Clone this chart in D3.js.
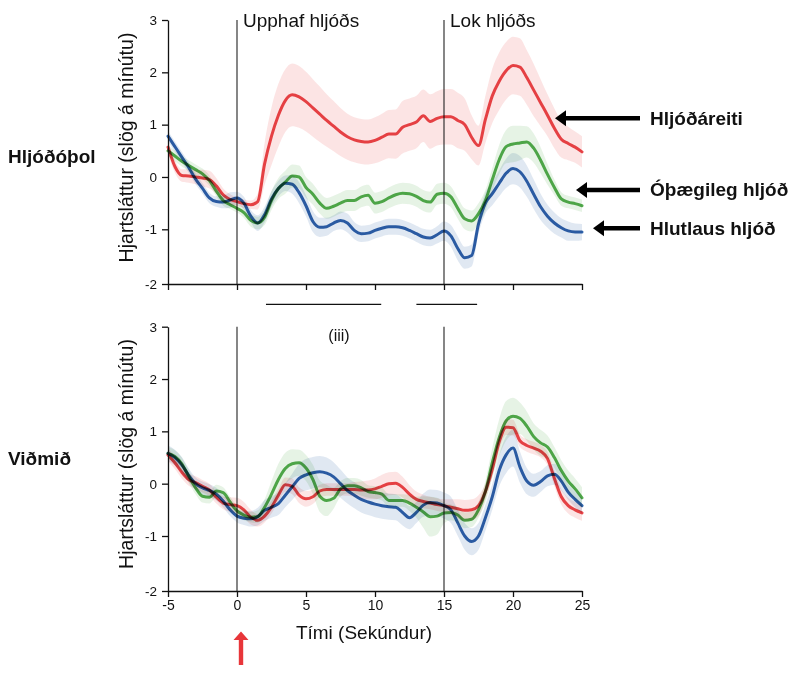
<!DOCTYPE html>
<html><head><meta charset="utf-8">
<script src="https://cdn.jsdelivr.net/npm/d3@7"></script>
<style>
html,body{margin:0;padding:0;background:#fff;}
svg{display:block;font-family:"Liberation Sans",Arial,Helvetica,sans-serif;}
.line{mix-blend-mode:multiply;}
</style></head>
<body>
<svg id="c" width="796" height="675"></svg>
<script>
// ---------- data ----------
const times = [
 -5,-4.5,-4,-3.5,-3,-2.5,-2,-1.5,-1,-0.5,
 0,0.5,1,1.5,2,2.5,3,3.5,4,4.5,
 5,5.5,6,6.5,7,7.5,8,8.5,9,9.5,
 10,10.5,11,11.5,12,12.5,13,13.5,14,14.5,
 15,15.5,16,16.5,17,17.5,18,18.5,19,19.5,
 20,20.5,21,21.5,22,22.5,23,23.5,24,24.5,
 25];

const seriesNames = ["Hljóðáreiti", "Óþægileg hljóð", "Hlutlaus hljóð"];
const panelNames = ["Hljóðóþol", "Viðmið"];

// top panel (Hljóðóþol)
const topRed = [
 0.57,0.2,0.03,0.02,0.0,-0.02,-0.05,-0.17,-0.34,-0.43,
 -0.47,-0.51,-0.53,-0.47,0.25,0.78,1.18,1.46,1.57,1.53,
 1.44,1.32,1.2,1.08,0.97,0.86,0.77,0.71,0.68,0.67,
 0.7,0.76,0.82,0.82,0.95,1.0,1.05,1.17,1.06,1.12,
 1.15,1.15,1.08,1.0,0.76,0.6,1.1,1.55,1.83,2.03,
 2.13,2.1,1.9,1.66,1.42,1.18,0.93,0.72,0.64,0.57,
 0.48];
const topRedErr = [
 0.12,0.12,0.12,0.13,0.14,0.16,0.17,0.15,0.12,0.1,
 0.08,0.08,0.08,0.15,0.4,0.55,0.6,0.6,0.6,0.59,
 0.57,0.55,0.53,0.5,0.48,0.46,0.44,0.43,0.43,0.43,
 0.44,0.45,0.46,0.47,0.5,0.5,0.5,0.5,0.52,0.52,
 0.53,0.53,0.53,0.5,0.42,0.38,0.45,0.52,0.55,0.55,
 0.55,0.55,0.52,0.5,0.45,0.4,0.38,0.35,0.32,0.3,
 0.3];
const topGreen = [
 0.5,0.4,0.3,0.22,0.14,0.06,-0.07,-0.27,-0.45,-0.53,
 -0.6,-0.68,-0.83,-0.88,-0.77,-0.45,-0.22,-0.1,0.02,0.0,
 -0.2,-0.33,-0.5,-0.6,-0.56,-0.5,-0.45,-0.45,-0.38,-0.35,
 -0.5,-0.47,-0.4,-0.34,-0.31,-0.32,-0.37,-0.45,-0.48,-0.33,
 -0.31,-0.38,-0.6,-0.8,-0.84,-0.7,-0.45,-0.05,0.33,0.58,
 0.63,0.65,0.67,0.55,0.32,0.05,-0.2,-0.42,-0.48,-0.51,
 -0.55];
const topGreenErr = [
 0.1,0.1,0.1,0.1,0.1,0.1,0.1,0.1,0.1,0.08,
 0.08,0.1,0.12,0.12,0.15,0.18,0.2,0.22,0.22,0.22,
 0.2,0.2,0.2,0.2,0.2,0.2,0.2,0.2,0.2,0.2,
 0.2,0.2,0.2,0.2,0.2,0.2,0.2,0.2,0.2,0.2,
 0.2,0.2,0.2,0.2,0.2,0.2,0.2,0.22,0.28,0.32,
 0.35,0.33,0.3,0.28,0.25,0.2,0.15,0.13,0.12,0.12,
 0.12];
const topBlue = [
 0.78,0.58,0.38,0.18,-0.04,-0.22,-0.4,-0.47,-0.48,-0.44,
 -0.4,-0.5,-0.75,-0.88,-0.72,-0.42,-0.22,-0.12,-0.14,-0.3,
 -0.55,-0.85,-0.96,-0.95,-0.88,-0.83,-0.88,-1.02,-1.08,-1.07,
 -1.02,-0.98,-0.95,-0.95,-0.97,-1.02,-1.08,-1.14,-1.16,-1.1,
 -1.03,-1.12,-1.35,-1.52,-1.48,-0.9,-0.5,-0.32,-0.12,0.07,
 0.16,0.1,-0.08,-0.33,-0.57,-0.75,-0.88,-0.97,-1.03,-1.05,
 -1.05];
const topBlueErr = [
 0.1,0.1,0.1,0.1,0.1,0.1,0.1,0.1,0.12,0.15,
 0.12,0.12,0.12,0.15,0.15,0.15,0.15,0.15,0.18,0.2,
 0.2,0.2,0.18,0.17,0.15,0.17,0.18,0.16,0.15,0.15,
 0.15,0.15,0.15,0.15,0.15,0.15,0.15,0.15,0.15,0.16,
 0.18,0.2,0.22,0.2,0.2,0.18,0.2,0.22,0.25,0.28,
 0.3,0.3,0.3,0.28,0.25,0.22,0.2,0.18,0.18,0.16,
 0.15];

// bottom panel (Viðmið)
const botRed = [
 0.55,0.4,0.22,0.08,0.02,-0.05,-0.12,-0.26,-0.37,-0.4,
 -0.42,-0.5,-0.64,-0.7,-0.62,-0.45,-0.22,-0.02,-0.05,-0.22,
 -0.29,-0.25,-0.14,-0.11,-0.11,-0.11,-0.11,-0.11,-0.12,-0.12,
 -0.1,-0.05,0.0,0.01,-0.07,-0.2,-0.3,-0.34,-0.37,-0.4,
 -0.42,-0.45,-0.48,-0.51,-0.5,-0.42,-0.15,0.28,0.8,1.08,
 1.07,0.82,0.73,0.68,0.62,0.48,0.1,-0.25,-0.42,-0.5,
 -0.56];
const botRedErr = [
 0.12,0.12,0.12,0.12,0.12,0.12,0.12,0.12,0.12,0.14,
 0.15,0.15,0.14,0.12,0.12,0.12,0.12,0.14,0.15,0.15,
 0.15,0.14,0.12,0.12,0.12,0.12,0.12,0.14,0.16,0.18,
 0.2,0.22,0.22,0.22,0.2,0.17,0.15,0.13,0.12,0.12,
 0.12,0.15,0.18,0.2,0.2,0.2,0.15,0.15,0.15,0.15,
 0.15,0.12,0.12,0.12,0.12,0.13,0.15,0.15,0.15,0.15,
 0.15];
const botGreen = [
 0.58,0.52,0.38,0.14,-0.08,-0.24,-0.26,-0.14,-0.17,-0.35,
 -0.52,-0.6,-0.64,-0.63,-0.45,-0.2,0.08,0.29,0.38,0.4,
 0.3,0.08,-0.24,-0.32,-0.28,-0.1,-0.04,-0.04,-0.08,-0.15,
 -0.17,-0.2,-0.32,-0.32,-0.32,-0.37,-0.45,-0.54,-0.63,-0.62,
 -0.56,-0.55,-0.6,-0.7,-0.68,-0.5,-0.15,0.4,0.88,1.2,
 1.29,1.25,1.1,0.9,0.78,0.7,0.5,0.25,0.05,-0.1,
 -0.27];
const botGreenErr = [
 0.12,0.12,0.12,0.12,0.12,0.12,0.12,0.12,0.1,0.1,
 0.1,0.1,0.1,0.12,0.15,0.25,0.3,0.3,0.28,0.25,
 0.25,0.28,0.3,0.3,0.2,0.15,0.15,0.15,0.15,0.12,
 0.12,0.12,0.12,0.12,0.12,0.15,0.2,0.3,0.38,0.35,
 0.2,0.15,0.15,0.15,0.15,0.15,0.2,0.28,0.35,0.38,
 0.35,0.3,0.28,0.25,0.25,0.22,0.2,0.2,0.2,0.2,
 0.2];
const botBlue = [
 0.58,0.5,0.36,0.16,0.0,-0.08,-0.13,-0.2,-0.33,-0.5,
 -0.62,-0.66,-0.67,-0.63,-0.51,-0.45,-0.38,-0.22,-0.06,0.1,
 0.17,0.21,0.23,0.2,0.13,0.0,-0.13,-0.22,-0.3,-0.35,
 -0.39,-0.42,-0.44,-0.45,-0.55,-0.65,-0.55,-0.41,-0.36,-0.37,
 -0.42,-0.5,-0.75,-1.0,-1.1,-1.0,-0.65,-0.25,0.25,0.55,
 0.68,0.32,0.05,-0.03,0.04,0.15,0.18,0.05,-0.16,-0.3,
 -0.42];
const botBlueErr = [
 0.15,0.15,0.15,0.13,0.12,0.12,0.12,0.12,0.12,0.12,
 0.12,0.13,0.15,0.17,0.2,0.2,0.22,0.23,0.25,0.28,
 0.3,0.3,0.3,0.3,0.28,0.27,0.25,0.25,0.25,0.25,
 0.25,0.25,0.25,0.25,0.25,0.22,0.2,0.22,0.25,0.25,
 0.25,0.25,0.25,0.25,0.25,0.25,0.25,0.25,0.3,0.35,
 0.35,0.3,0.25,0.22,0.2,0.2,0.2,0.18,0.15,0.15,
 0.15];

const xTicks = [-5, 0, 5, 10, 15, 20, 25];
const yTicks = [-2, -1, 0, 1, 2, 3];
const eventTimes = [0, 15];
const eventLabels = ["Upphaf hljóðs", "Lok hljóðs"];
const sigSegments = [[2.1, 10.45], [13.0, 17.4]];
const sigLabel = "(iii)";
const yTitle = "Hjartsláttur (slög á mínútu)";
const xTitle = "Tími (Sekúndur)";

// ---------- drawing ----------
const colors = ["#e8474b", "#55ad4f", "#2f63ab"];
const svg = d3.select("#c");
const x = d3.scaleLinear().domain([-5, 25]).range([168, 582]);
const fmt = d => String(d);

const panels = [
  { name: panelNames[0], y: d3.scaleLinear().domain([-2, -1, 3]).range([284, 229.3, 20]),
    series: [[topRed, topRedErr], [topGreen, topGreenErr], [topBlue, topBlueErr]],
    labels: false, titleY: 147.5, nameY: 162.5 },
  { name: panelNames[1], y: d3.scaleLinear().domain([-2, -1, 3]).range([591, 536, 326.7]),
    series: [[botRed, botRedErr], [botGreen, botGreenErr], [botBlue, botBlueErr]],
    labels: true, titleY: 454, nameY: 464.5 }
];

panels.forEach(p => {
  const g = svg.append("g");
  const y = p.y;
  // bands
  p.series.forEach((s, i) => {
    const data = times.map((t, k) => ({ t, v: s[0][k], e: s[1][k] }));
    const area = d3.area().curve(d3.curveMonotoneX)
      .x(d => x(d.t)).y0(d => y(d.v - d.e)).y1(d => y(d.v + d.e));
    g.append("path").datum(data).attr("d", area)
      .attr("fill", colors[i]).attr("fill-opacity", 0.15).attr("class", "line");
  });
  // event lines
  eventTimes.forEach(t => {
    g.append("line").attr("x1", x(t)).attr("x2", x(t))
      .attr("y1", y(3)).attr("y2", y(-2))
      .attr("stroke", "#222").attr("stroke-width", 1.1);
  });
  // lines
  p.series.forEach((s, i) => {
    const data = times.map((t, k) => ({ t, v: s[0][k] }));
    const line = d3.line().curve(d3.curveMonotoneX).x(d => x(d.t)).y(d => y(d.v));
    g.append("path").datum(data).attr("d", line).attr("class", "line")
      .attr("fill", "none").attr("stroke", colors[i]).attr("stroke-width", 3)
      .attr("stroke-linejoin", "round").attr("stroke-linecap", "round");
  });
  // axes
  const ya = g.append("g").attr("transform", `translate(${x(-5)},0)`)
    .call(d3.axisLeft(y).tickValues(yTicks).tickFormat(fmt).tickSize(6).tickSizeOuter(0).tickPadding(5));
  ya.selectAll("text").attr("font-size", 13.5).attr("fill", "#111");
  const xa = g.append("g").attr("transform", `translate(0,${y(-2)})`)
    .call(d3.axisBottom(x).tickValues(xTicks).tickSize(6).tickSizeOuter(0).tickPadding(3)
      .tickFormat(p.labels ? fmt : ""));
  xa.selectAll("text").attr("font-size", 14).attr("fill", "#111");
  g.selectAll(".domain, .tick line").attr("stroke", "#111").attr("stroke-width", 1.3);
  // y title
  g.append("text").attr("transform", `translate(133,${p.titleY}) rotate(-90)`)
    .attr("text-anchor", "middle").attr("font-size", 19.5).attr("fill", "#111").text(yTitle);
  // panel name
  g.append("text").attr("x", 8).attr("y", p.nameY).attr("font-size", 19)
    .attr("font-weight", "bold").attr("fill", "#111").text(p.name);
});

// event labels (top)
eventLabels.forEach((lab, i) => {
  svg.append("text").attr("x", x(eventTimes[i]) + 6).attr("y", 26.5)
    .attr("font-size", 19).attr("fill", "#111").text(lab);
});

// significance segments between panels
sigSegments.forEach(s => {
  svg.append("line").attr("x1", x(s[0])).attr("x2", x(s[1]))
    .attr("y1", 304.3).attr("y2", 304.3).attr("stroke", "#111").attr("stroke-width", 1.2);
});
svg.append("text").attr("x", 339).attr("y", 340.5).attr("text-anchor", "middle")
  .attr("font-size", 16).attr("fill", "#111").text(sigLabel);

// x title
svg.append("text").attr("x", 364).attr("y", 638.5).attr("text-anchor", "middle")
  .attr("font-size", 19).attr("fill", "#111").text(xTitle);

// legend arrows with labels (right)
const legendY = [118.3, 190, 228.3];
const legendTip = [555, 576, 593];
const legendBase = [125.3, 196.3, 234.5];
seriesNames.forEach((n, i) => {
  const yy = legendY[i], tip = legendTip[i], tail = 640;
  const path = `M${tip},${yy} L${tip + 11},${yy - 8} L${tip + 11},${yy - 2.3} L${tail},${yy - 2.3} L${tail},${yy + 2.3} L${tip + 11},${yy + 2.3} L${tip + 11},${yy + 8} Z`;
  svg.append("path").attr("d", path).attr("fill", "#000");
  svg.append("text").attr("x", 650).attr("y", legendBase[i]).attr("font-size", 19)
    .attr("font-weight", "bold").attr("fill", "#111").text(n);
});

// red stimulus arrow at t = 0
const ax = x(0) + 4;
svg.append("path")
  .attr("d", `M${ax},631.5 L${ax + 7.5},640 L${ax + 2.2},640 L${ax + 2.2},665 L${ax - 2.2},665 L${ax - 2.2},640 L${ax - 7.5},640 Z`)
  .attr("fill", "#e8363a");
</script>
</body></html>
